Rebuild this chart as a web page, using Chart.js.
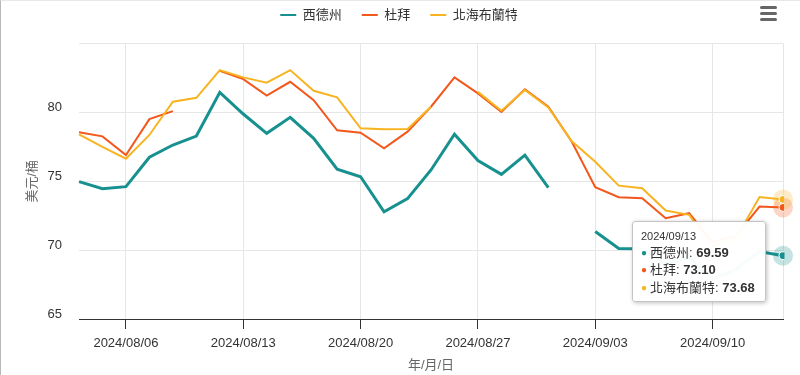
<!DOCTYPE html>
<html>
<head>
<meta charset="utf-8">
<script src="https://cdn.jsdelivr.net/npm/chart.js@4"></script>
<style>
  body { margin: 0; background: #fff; }
  #wrap { position: relative; width: 800px; height: 375px; background: #fff; }
  #wrap::after { content: ''; position: absolute; left: 0; top: 0; right: 0; bottom: 0;
    border-left: 1px solid #b8b8b8; border-top: 1px solid #e8e8e8; pointer-events: none; }
  #tip { position: absolute; display: none; background: rgba(255,255,255,0.97);
    border: 1px solid #c4c4c4; border-radius: 3px; box-shadow: 1px 1px 4px rgba(0,0,0,0.25);
    padding: 7px 10px 4px 8px; color: #333; white-space: nowrap; pointer-events: none; z-index: 5;
    font-family: 'Liberation Sans', 'Noto Sans CJK TC', sans-serif; }
  .t-title { font-size: 11px; line-height: 15px; margin-bottom: 1px; }
  .t-row { font-size: 13px; line-height: 16.5px; }
  .dot { font-size: 10px; margin-right: 3px; position: relative; top: -1px; }
</style>
</head>
<body>
<div id="wrap">
  <canvas id="chart"></canvas>
  <div id="tip"></div>
</div>
<script>
const FONT = "'Liberation Sans', 'Noto Sans CJK TC', sans-serif";

// trading days
const dates = [
  '2024/08/02', '2024/08/05', '2024/08/06', '2024/08/07', '2024/08/08', '2024/08/09',
  '2024/08/12', '2024/08/13', '2024/08/14', '2024/08/15', '2024/08/16',
  '2024/08/19', '2024/08/20', '2024/08/21', '2024/08/22', '2024/08/23',
  '2024/08/26', '2024/08/27', '2024/08/28', '2024/08/29', '2024/08/30',
  '2024/09/02', '2024/09/03', '2024/09/04', '2024/09/05', '2024/09/06',
  '2024/09/09', '2024/09/10', '2024/09/11', '2024/09/12', '2024/09/13'
];

const wti = [74.97, 74.46, 74.61, 76.74, 77.63, 78.28, 81.45, 79.88, 78.48, 79.64, 78.12,
  75.87, 75.33, 72.78, 73.74, 75.82, 78.41, 76.50, 75.50, 76.90, 74.54,
  null, 71.35, 70.12, 70.10, 69.00, 69.50, 67.90, 68.60, 69.90, 69.59];

const dubai = [78.55, 78.26, 76.90, 79.51, 80.09, null, 83.01, 82.41, 81.22, 82.22, 80.89,
  78.70, 78.52, 77.39, 78.60, 80.41, 82.54, 81.38, 80.04, 81.67, 80.41,
  77.87, 74.57, 73.84, 73.77, 72.32, 72.68, 70.60, 71.05, 73.16, 73.10];

const brent = [78.41, 77.50, 76.64, 78.36, 80.77, 81.06, 83.07, 82.54, 82.16, 83.07, 81.57,
  81.09, 78.84, 78.77, 78.79, 80.41, null, 81.49, 80.12, 81.62, 80.35,
  77.90, 76.42, 74.68, 74.49, 72.87, 72.56, 70.30, 70.87, 73.85, 73.68];

const seriesNames = ['西德州', '杜拜', '北海布蘭特'];
const seriesColors = ['#17918f', '#f2571b', '#f8b320'];

// x ticks shown; the last day only carries a grid line
const tickDates = ['2024/08/06', '2024/08/13', '2024/08/20', '2024/08/27', '2024/09/03', '2024/09/10'];
const yTicks = [65, 70, 75, 80];
const LAST = dates.length - 1;

// Tooltip drawn as html so the values can be bold
function externalTooltip(context) {
  const tooltip = context.tooltip;
  const el = document.getElementById('tip');
  if (tooltip.opacity === 0 || !tooltip.dataPoints) {
    el.style.display = 'none';
    return;
  }
  const pts = tooltip.dataPoints.slice().sort((a, b) => a.datasetIndex - b.datasetIndex);
  let html = '<div class="t-title">' + pts[0].label + '</div>';
  pts.forEach(p => {
    html += '<div class="t-row"><span class="dot" style="color:' + p.dataset.borderColor + '">●</span>' +
      p.dataset.label + ': <b>' + p.raw.toFixed(2) + '</b></div>';
  });
  el.innerHTML = html;
  el.style.display = 'block';
  el.style.left = (tooltip.caretX - 17 - el.offsetWidth) + 'px';
  el.style.top = tooltip.caretY + 'px';
}

// extra room under the legend, and nudge it a bit right
const legendGap = {
  id: 'legendGap',
  beforeLayout(chart) {
    const lg = chart.legend;
    if (lg && !lg._gapPatched) {
      const fit = lg.fit;
      lg.fit = function () {
        fit.call(this);
        this.height += 12;
        if (this.lineWidths) this.lineWidths[0] -= 15;
      };
      lg._gapPatched = true;
    }
  }
};

// halo round hovered points
const halo = {
  id: 'halo',
  beforeDatasetsDraw(chart) {
    const ctx = chart.ctx;
    chart.getActiveElements().forEach(a => {
      ctx.save();
      ctx.globalAlpha = 0.25;
      ctx.fillStyle = seriesColors[a.datasetIndex];
      ctx.beginPath();
      ctx.arc(a.element.x, a.element.y, 10, 0, Math.PI * 2);
      ctx.fill();
      ctx.restore();
    });
  }
};

// menu button top right
const menuIcon = {
  id: 'menuIcon',
  afterDraw(chart) {
    const ctx = chart.ctx;
    ctx.save();
    ctx.fillStyle = '#666';
    [6, 12, 18].forEach(y => {
      ctx.beginPath();
      ctx.roundRect(760, y, 17, 3, 1.5);
      ctx.fill();
    });
    ctx.restore();
  }
};

function makeDataset(i, values, width, order) {
  return {
    label: seriesNames[i],
    data: values,
    borderColor: seriesColors[i],
    backgroundColor: seriesColors[i],
    borderWidth: width,
    pointRadius: 0,
    pointHoverRadius: 4,
    pointHoverBorderWidth: 1,
    pointHoverBorderColor: '#fff',
    pointHoverBackgroundColor: seriesColors[i],
    tension: 0,
    order: order
  };
}

const ctx = document.getElementById('chart').getContext('2d');
const chart = new Chart(ctx, {
  type: 'line',
  data: {
    labels: dates,
    datasets: [
      makeDataset(0, wti, 3, 0),
      makeDataset(1, dubai, 2, 2),
      makeDataset(2, brent, 2, 1)
    ]
  },
  plugins: [legendGap, halo, menuIcon],
  options: {
    responsive: true,
    maintainAspectRatio: false,
    animation: false,
    events: [],
    layout: { padding: { top: -11.5, right: 17, bottom: 0, left: 0 } },
    font: { family: FONT },
    plugins: {
      legend: {
        display: true,
        position: 'top',
        labels: {
          usePointStyle: true,
          pointStyle: 'line',
          pointStyleWidth: 16,
          padding: 20,
          color: '#333',
          font: { family: FONT, size: 13 },
          sort: (a, b) => a.datasetIndex - b.datasetIndex,
          generateLabels: chart => {
            const items = Chart.defaults.plugins.legend.labels.generateLabels(chart);
            items.forEach(it => { it.lineWidth = 2; });
            return items;
          }
        }
      },
      tooltip: {
        enabled: false,
        mode: 'index',
        intersect: false,
        position: 'average',
        external: externalTooltip
      }
    },
    scales: {
      x: {
        type: 'category',
        afterFit: s => { s.height = 56; },
        afterBuildTicks: s => {
          const idx = tickDates.map(d => dates.indexOf(d));
          idx.push(LAST);
          s.ticks = idx.map(v => ({ value: v }));
        },
        ticks: {
          autoSkip: false,
          maxRotation: 0,
          padding: 7,
          color: '#333',
          font: { family: FONT, size: 13 },
          callback: function (v) { return v === LAST ? '' : this.getLabelForValue(v); }
        },
        grid: {
          color: '#e6e6e6',
          tickLength: 10,
          tickColor: c => (c.tick && c.tick.value === LAST) ? 'rgba(0,0,0,0)' : '#333'
        },
        border: { display: true, color: '#333', width: 1 },
        title: {
          display: true,
          text: '年/月/日',
          color: '#666',
          font: { family: FONT, size: 13 },
          padding: { top: 0, bottom: 2 }
        }
      },
      y: {
        min: 65,
        max: 85,
        afterFit: s => { s.width = 79; },
        ticks: {
          stepSize: 5,
          padding: 17,
          labelOffset: -5,
          color: '#333',
          font: { family: FONT, size: 13 },
          callback: v => yTicks.includes(v) ? String(v) : ''
        },
        grid: {
          color: c => (c.tick && c.tick.value === 65) ? '#333' : '#e6e6e6',
          drawTicks: false
        },
        border: { display: false },
        title: {
          display: true,
          text: '美元/桶',
          color: '#666',
          font: { family: FONT, size: 13 },
          padding: { top: 25, bottom: 0 }
        }
      }
    }
  }
});

// hover state on the last day, as in the picture
const active = seriesNames.map((n, i) => ({ datasetIndex: i, index: LAST }));
chart.setActiveElements(active);
chart.tooltip.setActiveElements(active, { x: 0, y: 0 });
chart.render();
</script>
</body>
</html>
